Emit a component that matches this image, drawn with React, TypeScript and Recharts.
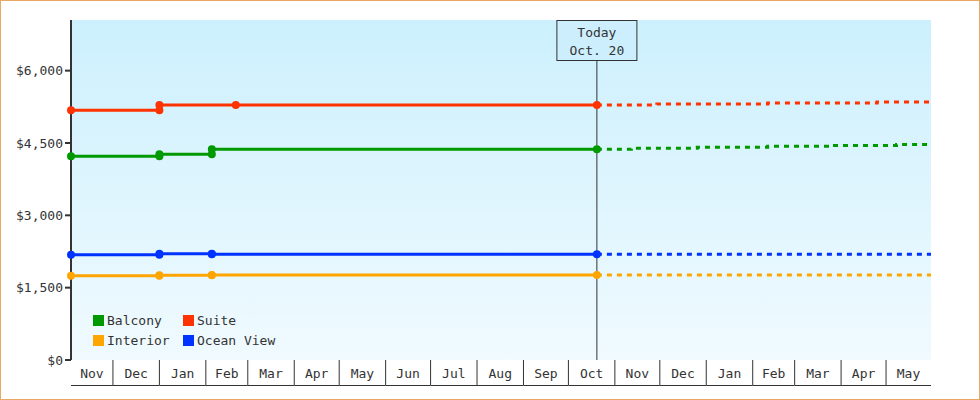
import React from 'react';
import { LineChart, Line, XAxis, YAxis, CartesianGrid, ReferenceLine } from 'recharts';

const MONTHS = ['Nov', 'Dec', 'Jan', 'Feb', 'Mar', 'Apr', 'May', 'Jun', 'Jul', 'Aug', 'Sep', 'Oct', 'Nov', 'Dec', 'Jan', 'Feb', 'Mar', 'Apr', 'May'];
const MONTH_DAYS = [30, 31, 31, 28, 31, 30, 31, 30, 31, 31, 30, 31, 30, 31, 31, 28, 31, 30, 31];

// day offsets from the first Nov 1
const MONTH_START = MONTH_DAYS.reduce<number[]>((acc, _, i) => {
  acc.push(i === 0 ? 0 : acc[i - 1] + MONTH_DAYS[i - 1]);
  return acc;
}, []);
const day = (m: number, d: number) => MONTH_START[m] + d - 1;

const X_START = day(0, 3);
const X_END = day(18, 31);
const TODAY = day(11, 20);

const Y_TICKS = [0, 1500, 3000, 4500, 6000];
const Y_MAX = 7050;

// price history (solid)
const SUITE_DATES = [day(0, 3), day(2, 1), day(2, 1), day(3, 21), TODAY];
const SUITE_PRICES = [5180, 5180, 5290, 5290, 5290];
const HIST_DATES = [day(0, 3), day(2, 1), day(2, 1), day(3, 5), day(3, 5), TODAY];
const BALCONY_PRICES = [4225, 4225, 4265, 4265, 4370, 4370];
const OCEAN_PRICES = [2180, 2180, 2205, 2205, 2195, 2195];
const INTERIOR_PRICES = [1745, 1745, 1755, 1755, 1760, 1760];

// projection (dashed)
const SUITE_FC_DATES = [TODAY, day(12, 29), day(12, 29), day(15, 11), day(15, 11), day(17, 25), day(17, 25), X_END];
const SUITE_FC_PRICES = [5290, 5290, 5310, 5310, 5330, 5330, 5350, 5350];
const BALCONY_FC_DATES = [TODAY, day(12, 12), day(12, 12), day(13, 26), day(13, 26), day(15, 11), day(15, 11), day(16, 26), day(16, 26), day(18, 8), day(18, 8), X_END];
const BALCONY_FC_PRICES = [4370, 4370, 4390, 4390, 4410, 4410, 4430, 4430, 4450, 4450, 4470, 4470];
const FLAT_FC_DATES = [TODAY, X_END];
const OCEAN_FC_PRICES = [2195, 2195];
const INTERIOR_FC_PRICES = [1760, 1760];

const COLORS = {
  balcony: '#009900',
  suite: '#ff3300',
  interior: '#ffa500',
  ocean: '#0033ff',
};

const LEGEND = [
  { name: 'Balcony', color: COLORS.balcony },
  { name: 'Suite', color: COLORS.suite },
  { name: 'Interior', color: COLORS.interior },
  { name: 'Ocean View', color: COLORS.ocean },
];

const zip = (dates: number[], prices: number[]) => dates.map((d, i) => ({ d, v: prices[i] }));

const FONT = '"DejaVu Sans Mono", monospace';
const TEXT = '#333';
const PLOT_W = 860;
const PX_PER_DAY = PLOT_W / (X_END - X_START);
const X_TICKS = MONTH_START.map((s) => Math.max(s, X_START));

const MonthTick = (props: any) => {
  const { x, y, index } = props;
  const start = X_TICKS[index];
  const end = index < X_TICKS.length - 1 ? X_TICKS[index + 1] : X_END;
  const w = (end - start) * PX_PER_DAY;
  return (
    <g>
      {index > 0 && <line x1={x} y1={y} x2={x} y2={y + 25} stroke={TEXT} strokeWidth={1} />}
      <line x1={x} y1={y + 25.5} x2={x + w} y2={y + 25.5} stroke={TEXT} strokeWidth={1} />
      <text x={x + w / 2} y={y + 18} textAnchor="middle" fontFamily={FONT} fontSize={13} fill={TEXT}>
        {MONTHS[index]}
      </text>
    </g>
  );
};

const TodayLabel = (props: any) => {
  const { viewBox } = props;
  const cx = viewBox.x;
  return (
    <g>
      <rect x={cx - 40} y={20.5} width={80} height={40} fill="#cdeffd" stroke={TEXT} strokeWidth={1} />
      <text x={cx} y={37} textAnchor="middle" fontFamily={FONT} fontSize={13} fill={TEXT}>Today</text>
      <text x={cx} y={55} textAnchor="middle" fontFamily={FONT} fontSize={13} fill={TEXT}>Oct. 20</text>
    </g>
  );
};

const solid = (color: string) => ({
  type: 'linear' as const,
  dataKey: 'v',
  stroke: color,
  strokeWidth: 3,
  dot: { r: 3, fill: color, stroke: color, strokeWidth: 2 },
  activeDot: false,
  isAnimationActive: false,
});

const dashed = (color: string) => ({
  type: 'linear' as const,
  dataKey: 'v',
  stroke: color,
  strokeWidth: 3,
  strokeDasharray: '5 5',
  dot: false,
  activeDot: false,
  isAnimationActive: false,
});

export default function App() {
  return (
    <div style={{ position: 'relative', width: 980, height: 400, background: '#fff' }}>
      <style>{'body{margin:0}'}</style>
      <LineChart width={980} height={400} margin={{ top: 20, right: 49, left: 8, bottom: 15 }}>
        <defs>
          <linearGradient id="plotBg" x1="0" y1="0" x2="0" y2="1">
            <stop offset="0%" stopColor="#ccf0fd" />
            <stop offset="100%" stopColor="#f0faff" />
          </linearGradient>
        </defs>
        <CartesianGrid horizontal={false} vertical={false} fill="url(#plotBg)" />
        <XAxis
          type="number"
          dataKey="d"
          domain={[X_START, X_END]}
          ticks={X_TICKS}
          interval={0}
          axisLine={false}
          tickLine={false}
          tickSize={0}
          tickMargin={0}
          height={25}
          tick={<MonthTick />}
        />
        <YAxis
          type="number"
          domain={[0, Y_MAX]}
          ticks={Y_TICKS}
          width={63}
          axisLine={{ stroke: TEXT, strokeWidth: 2 }}
          tickLine={{ stroke: TEXT, strokeWidth: 2 }}
          tickSize={6}
          tickFormatter={(v: number) => `$${v.toLocaleString('en-US')}`}
          tick={{ fontFamily: FONT, fontSize: 13, fill: TEXT }}
        />
        <ReferenceLine x={TODAY} stroke={TEXT} strokeWidth={1} label={<TodayLabel />} />
        <Line {...dashed(COLORS.suite)} data={zip(SUITE_FC_DATES, SUITE_FC_PRICES)} />
        <Line {...dashed(COLORS.balcony)} data={zip(BALCONY_FC_DATES, BALCONY_FC_PRICES)} />
        <Line {...dashed(COLORS.ocean)} data={zip(FLAT_FC_DATES, OCEAN_FC_PRICES)} />
        <Line {...dashed(COLORS.interior)} data={zip(FLAT_FC_DATES, INTERIOR_FC_PRICES)} />
        <Line {...solid(COLORS.suite)} data={zip(SUITE_DATES, SUITE_PRICES)} />
        <Line {...solid(COLORS.balcony)} data={zip(HIST_DATES, BALCONY_PRICES)} />
        <Line {...solid(COLORS.ocean)} data={zip(HIST_DATES, OCEAN_PRICES)} />
        <Line {...solid(COLORS.interior)} data={zip(HIST_DATES, INTERIOR_PRICES)} />
      </LineChart>
      <div
        style={{
          position: 'absolute',
          left: 93,
          top: 314,
          width: 190,
          display: 'grid',
          gridTemplateColumns: '90px 100px',
          rowGap: 7,
          fontFamily: FONT,
          fontSize: 13,
          color: TEXT,
        }}
      >
        {LEGEND.map((item) => (
          <div key={item.name} style={{ display: 'flex', alignItems: 'center', height: 13 }}>
            <span style={{ width: 11, height: 11, background: item.color, marginRight: 3, display: 'inline-block' }} />
            <span>{item.name}</span>
          </div>
        ))}
      </div>
      <div
        style={{
          position: 'absolute',
          inset: 0,
          border: '1px solid #e9a964',
          boxSizing: 'border-box',
          pointerEvents: 'none',
        }}
      />
    </div>
  );
}
